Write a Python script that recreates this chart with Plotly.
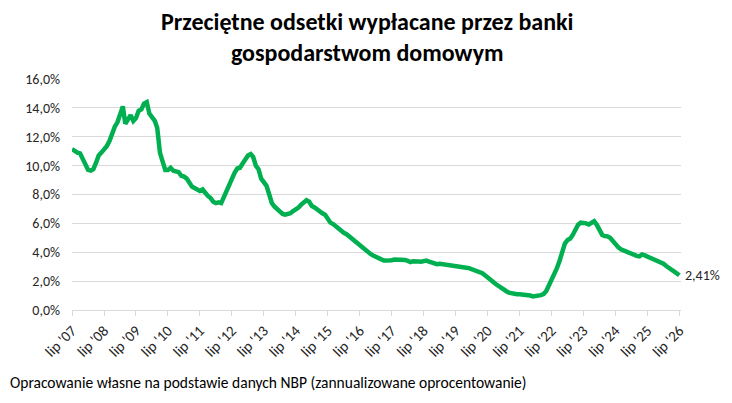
import pandas as pd
import plotly.graph_objects as go

# miesieczne dane od lip 2007 (w %)
odsetki = [
    11.15, 11.0, 10.9, 10.85, 10.5, 10.0, 9.7, 9.65, 9.75, 10.2, 10.7, 10.9,
    11.1, 11.35, 11.7, 12.3, 12.7, 13.0, 13.6, 14.1, 12.9, 13.2, 13.5, 13.1,
    13.3, 13.8, 13.9, 14.3, 14.4, 13.6, 13.3, 13.1, 12.6, 10.9, 10.3, 9.7,
    9.7, 9.85, 9.65, 9.6, 9.55, 9.3, 9.25, 9.1, 8.8, 8.55, 8.45, 8.3,
    8.25, 8.35, 8.1, 7.9, 7.75, 7.5, 7.4, 7.45, 7.4, 7.85, 8.3, 8.6,
    9.0, 9.5, 9.8, 9.85, 10.15, 10.4, 10.7, 10.8, 10.6, 10.0, 9.75, 9.1,
    8.8, 8.6, 8.0, 7.4, 7.15, 6.95, 6.75, 6.65, 6.6, 6.65, 6.7, 6.85,
    6.95, 7.1, 7.3, 7.45, 7.6, 7.5, 7.2, 7.1, 6.95, 6.85, 6.7, 6.6,
    6.3, 6.05, 5.95, 5.8, 5.6, 5.5, 5.35, 5.25, 5.1, 4.9, 4.75, 4.6,
    4.45, 4.3, 4.1, 3.98, 3.88, 3.78, 3.68, 3.55, 3.45, 3.42, 3.42, 3.4,
    3.45, 3.5, 3.5, 3.52, 3.5, 3.47, 3.4, 3.32, 3.38, 3.4, 3.36, 3.35,
    3.38, 3.42, 3.35, 3.3, 3.22, 3.17, 3.2, 3.18, 3.13, 3.1, 3.1, 3.08,
    3.07, 3.05, 3.0, 2.96, 2.93, 2.9, 2.84, 2.78, 2.7, 2.63, 2.55, 2.4,
    2.22, 2.08, 1.95, 1.8, 1.65, 1.52, 1.42, 1.3, 1.2, 1.14, 1.1, 1.09,
    1.09, 1.08, 1.08, 1.05, 1.0, 0.94, 0.95, 0.98, 1.03, 1.1, 1.3, 1.7,
    2.05, 2.43, 2.9, 3.4, 3.95, 4.6, 4.85, 4.95, 5.2, 5.65, 5.9, 6.05,
    6.06, 6.0, 5.92, 6.05, 6.15, 5.9, 5.45, 5.2, 5.12, 5.1, 5.0, 4.75,
    4.55, 4.35, 4.2, 4.12, 4.05, 4.02, 3.95, 3.82, 3.75, 3.72, 3.85, 3.78,
    3.7, 3.65, 3.58, 3.5, 3.4, 3.3, 3.2, 3.05, 2.9, 2.8, 2.68, 2.55, 2.41,
]
daty = pd.date_range("2007-07-01", periods=len(odsetki), freq="MS")

lata = list(range(2007, 2027))
tick_daty = [pd.Timestamp(f"{r}-07-01") for r in lata]
tick_opisy = [f"lip '{r % 100:02d}" for r in lata]

y_ticki = [0, 2, 4, 6, 8, 10, 12, 14, 16]
y_opisy = [f"{v:.1f}%".replace(".", ",") for v in y_ticki]

font_main = "Calibri, Carlito, Lato, sans-serif"
kolor_txt = "#262626"

fig = go.Figure()
fig.add_trace(go.Scatter(
    x=daty, y=odsetki, mode="lines",
    line=dict(color="#00B050", width=4.5),
    showlegend=False,
))

# etykieta ostatniej wartosci
fig.add_annotation(
    x=daty[-1], y=odsetki[-1], text=f"{odsetki[-1]:.2f}%".replace(".", ","),
    showarrow=False, xanchor="left", xshift=4,
    font=dict(size=14, color=kolor_txt, family=font_main),
)

# tytul
fig.add_annotation(
    x=0.5, y=1, xref="paper", yref="paper", xanchor="center", yanchor="middle",
    text="<b>Przeciętne odsetki wypłacane przez banki<br>gospodarstwom domowym</b>",
    showarrow=False, xshift=-10, yshift=42,
    font=dict(size=24, color="#000000", family=font_main),
)

# zrodlo
fig.add_annotation(
    x=0, y=0, xref="paper", yref="paper", xanchor="left", yanchor="middle",
    text="Opracowanie własne na podstawie danych NBP (zannualizowane oprocentowanie)",
    showarrow=False, xshift=-64, yshift=-72,
    font=dict(size=15.5, color="#000000", family=font_main),
)

fig.update_layout(
    width=724, height=395,
    margin=dict(l=64, r=51, t=71, b=93),
    paper_bgcolor="white", plot_bgcolor="white",
    font=dict(family=font_main, color=kolor_txt),
)
fig.update_xaxes(
    range=[daty[0], pd.Timestamp("2026-07-20")],
    tickvals=tick_daty, ticktext=tick_opisy, tickangle=-45,
    ticks="outside", ticklen=5, tickcolor="#d9d9d9",
    showline=True, linecolor="#d9d9d9", linewidth=1,
    showgrid=False, zeroline=False,
    tickfont=dict(size=15, color=kolor_txt),
)
fig.update_yaxes(
    range=[0, 16], tickvals=y_ticki, ticktext=y_opisy,
    showgrid=True, gridcolor="#d9d9d9", gridwidth=1, zeroline=False,
    tickfont=dict(size=14, color=kolor_txt), ticklabelstandoff=11,
)

fig.write_html("out.html")
